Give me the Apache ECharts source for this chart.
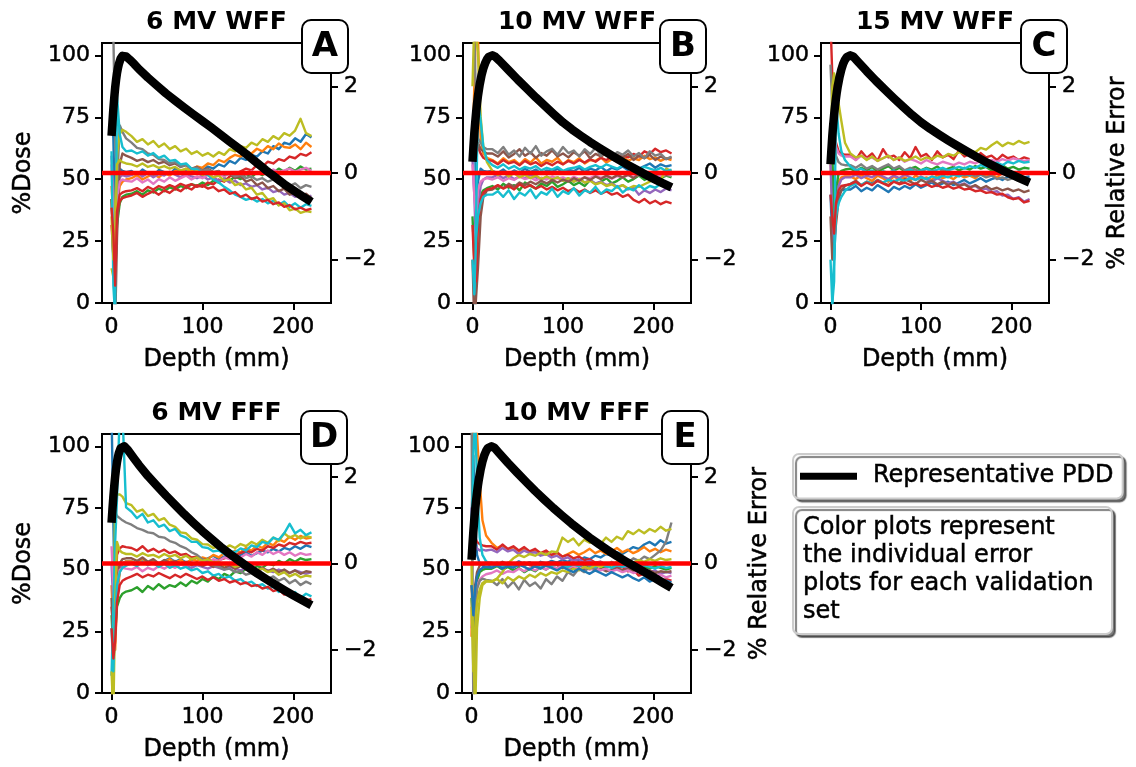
<!DOCTYPE html>
<html>
<head>
<meta charset="utf-8">
<title>Representative PDD and relative error</title>
<script src="https://cdn.jsdelivr.net/npm/echarts@6/dist/echarts.min.js"></script>
<style>
  html, body { margin: 0; padding: 0; background: #fff; }
  #chart { width: 1136px; height: 767px; }
</style>
</head>
<body>
<div id="chart"></div>
<script>
// tick labels
const X_TICKS = [0, 100, 200];
const DOSE_TICKS = [0, 25, 50, 75, 100];
const ERR_TICKS = [-2, 0, 2];
const X_MIN = -10.5, X_MAX = 241.5;

const NOTE_LINES = ['Color plots represent', 'the individual error', 'plots for each validation', 'set'];

// depth grid of the representative PDD curves (mm)
const PDD_DEPTH = [0, 1, 2, 3, 4, 5, 6, 7, 8, 10, 12, 14, 16, 18, 20, 22, 25, 30,
  40, 50, 60, 70, 80, 90, 100, 110, 120, 130, 140, 150, 160, 170, 180, 190, 200, 210, 220];

const PDD_A = [67.5, 73, 78.5, 83, 87, 90.2, 92.8, 94.8, 96.4, 98.7, 99.8, 100, 99.6, 99, 98.3, 97.6, 96.5, 94.5,
  91, 87.8, 84.6, 81.7, 78.9, 76.2, 73.5, 70.8, 68, 65.2, 62.4, 59.6, 56.6, 53.6, 50.8, 48, 45.5, 43.1, 40.8];
const PDD_B = [57, 63, 68.5, 73, 77, 80.5, 83.5, 86, 88.3, 92, 94.8, 96.9, 98.4, 99.4, 99.9, 100, 99.5, 97.8,
  94, 90.2, 86.6, 83, 79.6, 76.2, 72.9, 70.1, 67.5, 65, 62.7, 60.4, 58.2, 56.1, 54.1, 52.1, 50.2, 48.4, 46.7];
const PDD_C = [56, 62, 67.5, 72, 76, 79.5, 82.5, 85.2, 87.5, 91.3, 94.3, 96.6, 98.2, 99.3, 99.9, 100, 99.6, 97.6,
  93.6, 89.8, 86.2, 82.7, 79.3, 76, 73, 70.4, 68, 65.7, 63.5, 61.4, 59.3, 57.3, 55.4, 53.6, 51.9, 50.2, 48.6];
const PDD_D = [69, 74.5, 79.5, 84, 87.8, 91, 93.6, 95.6, 97.2, 99.2, 99.9, 100, 99.4, 98.5, 97.5, 96.5, 95, 92.5,
  88, 84, 80, 76.2, 72.5, 69, 65.6, 62.4, 59.3, 56.4, 53.7, 51.1, 48.6, 46.2, 43.9, 41.7, 39.6, 37.6, 35.6];
const PDD_E = [54, 60, 65.5, 70.3, 74.5, 78, 81.2, 84, 86.5, 90.6, 93.8, 96.3, 98.1, 99.3, 99.9, 100, 99.5, 97.4,
  93.3, 89.4, 85.6, 81.9, 78.4, 75, 71.8, 68.7, 65.8, 63, 60.4, 57.9, 55.5, 53.3, 51.2, 49.1, 47, 44.8, 42.6];

// depth grid of the validation error curves (mm)
const DEPTH_ERR = [0, 2, 4, 6, 9, 12, 16, 22, 28, 34, 40, 46, 52, 58, 64, 70, 76, 82, 88, 94, 100, 106, 112,
  118, 124, 130, 136, 142, 148, 154, 160, 166, 172, 178, 184, 190, 196, 202, 208, 214, 220];

// % relative error, one row per validation set
const ERR_A = [
  [1.5,0.8,-1.2,-0.4,0.1,0.05,0.02, 0.05,-0.05,0.08,0.0,-0.06,0.07,0.02,-0.04,0.1,0.03,0.08,0.0,0.12,0.06,0.15,0.1,0.2,0.15,0.28,0.22,0.35,0.3,0.42,0.38,0.5,0.45,0.62,0.55,0.7,0.66,0.8,0.72,0.9,0.82],
  [-0.3,-1.0,-2.8,-0.8,-0.3,-0.2,-0.15, -0.12,-0.05,-0.15,-0.08,-0.02,-0.1,0.0,-0.06,0.05,0.02,0.1,0.06,0.15,0.12,0.22,0.18,0.3,0.25,0.35,0.42,0.38,0.5,0.45,0.56,0.5,0.62,0.55,0.68,0.6,0.58,0.66,0.55,0.7,0.6],
  [-0.6,-1.6,-2.0,-1.2,-0.7,-0.55,-0.5, -0.48,-0.42,-0.5,-0.4,-0.45,-0.36,-0.42,-0.33,-0.38,-0.3,-0.35,-0.26,-0.3,-0.22,-0.28,-0.18,-0.22,-0.12,-0.18,-0.08,-0.14,-0.04,-0.1,0.02,-0.05,0.06,0.0,0.1,0.03,0.12,0.05,0.15,0.08,0.1],
  [-1.2,-1.9,-2.4,-1.0,-0.65,-0.58,-0.55, -0.52,-0.46,-0.55,-0.48,-0.42,-0.5,-0.4,-0.46,-0.36,-0.42,-0.32,-0.38,-0.28,-0.32,-0.22,-0.26,-0.15,-0.2,-0.08,-0.02,0.04,0.1,0.06,0.18,0.14,0.26,0.22,0.32,0.28,0.38,0.34,0.44,0.4,0.48],
  [0.4,-0.6,-1.5,-0.5,-0.1,-0.05,-0.08, -0.05,0.02,-0.08,0.0,-0.1,-0.02,-0.06,0.03,-0.04,-0.1,-0.02,-0.08,-0.12,-0.06,-0.15,-0.1,-0.18,-0.14,-0.22,-0.18,-0.28,-0.24,-0.32,-0.28,-0.38,-0.34,-0.44,-0.4,-0.5,-0.46,-0.55,-0.5,-0.58,-0.52],
  [-0.6,-2.0,-3.5,-1.5,0.2,0.45,0.4, 0.35,0.28,0.32,0.25,0.3,0.22,0.26,0.18,0.22,0.14,0.18,0.1,0.14,0.06,0.1,0.02,0.05,-0.05,-0.02,-0.12,-0.08,-0.2,-0.15,-0.28,-0.22,-0.35,-0.3,-0.42,-0.36,-0.5,-0.44,-0.55,-0.48,-0.58],
  [0.2,-1.0,-2.0,-0.6,-0.2,-0.15,-0.18, -0.2,-0.12,-0.22,-0.15,-0.25,-0.14,-0.2,-0.1,-0.18,-0.12,-0.06,-0.15,-0.08,-0.12,-0.04,-0.1,-0.02,-0.08,0.0,-0.06,0.02,-0.04,0.04,-0.02,0.06,0.0,0.08,0.02,0.06,0.1,0.03,0.08,0.12,0.05],
  [3.5,3.2,0.8,-0.3,1.1,0.95,0.8, 0.7,0.58,0.55,0.45,0.42,0.32,0.3,0.22,0.25,0.15,0.18,0.1,0.12,0.05,0.08,0.0,0.04,-0.04,0.0,-0.08,-0.04,-0.12,-0.08,-0.16,-0.12,-0.2,-0.15,-0.25,-0.2,-0.3,-0.24,-0.35,-0.28,-0.32],
  [-2.2,-2.4,-0.8,0.4,0.9,1.0,0.95, 0.85,0.72,0.78,0.66,0.74,0.6,0.68,0.55,0.62,0.5,0.56,0.44,0.5,0.4,0.46,0.38,0.48,0.42,0.55,0.5,0.62,0.58,0.7,0.64,0.78,0.72,0.85,0.78,0.92,0.86,0.98,1.25,0.92,0.85],
  [0.5,-2.6,-3.3,1.8,0.9,0.6,0.5, 0.52,0.45,0.5,0.4,0.46,0.35,0.4,0.28,0.3,0.2,0.22,0.1,0.08,0.0,-0.05,-0.15,-0.22,-0.32,-0.4,-0.5,-0.55,-0.62,-0.58,-0.66,-0.6,-0.7,-0.64,-0.74,-0.66,-0.78,-0.7,-0.8,-0.72,-0.76],
  [-1.0,-2.0,-1.5,0.2,0.3,0.25,0.22, 0.2,0.15,0.22,0.14,0.18,0.12,0.16,0.1,0.14,0.06,0.1,0.02,0.04,-0.04,0.0,-0.1,-0.06,-0.18,-0.14,-0.28,-0.24,-0.38,-0.34,-0.5,-0.46,-0.62,-0.58,-0.75,-0.7,-0.86,-0.82,-0.92,-0.88,-0.9],
  [-0.8,-1.4,-2.6,-0.9,-0.5,-0.45,-0.42, -0.4,-0.35,-0.42,-0.32,-0.38,-0.3,-0.35,-0.28,-0.33,-0.25,-0.3,-0.26,-0.32,-0.28,-0.36,-0.32,-0.42,-0.38,-0.48,-0.44,-0.55,-0.5,-0.6,-0.56,-0.66,-0.62,-0.72,-0.68,-0.78,-0.74,-0.84,-0.8,-0.86,-0.82]
];
const COLORS_A = ['blue','orange','green','red','purple','brown','pink','gray','olive','cyan','olive','red'];

const ERR_B = [
  [0.8,1.5,-0.5,-0.2,0.1,0.05,0.03, 0.05,0.0,0.08,-0.02,0.06,0.0,0.1,0.02,0.08,-0.02,0.06,0.03,0.1,0.0,0.08,0.04,0.12,0.02,0.1,0.06,0.14,0.04,0.12,0.08,0.15,0.06,0.18,0.1,0.16,0.22,0.12,0.2,0.15,0.18],
  [0.5,2.0,3.5,3.2,0.8,0.45,0.35, 0.3,0.22,0.34,0.25,0.3,0.2,0.32,0.24,0.36,0.22,0.3,0.26,0.35,0.2,0.3,0.25,0.34,0.22,0.3,0.28,0.36,0.24,0.32,0.26,0.38,0.28,0.34,0.3,0.4,0.32,0.36,0.28,0.34,0.3],
  [-1.0,-2.0,-1.6,-0.8,-0.5,-0.4,-0.35, -0.3,-0.38,-0.25,-0.34,-0.28,-0.4,-0.22,-0.3,-0.36,-0.24,-0.3,-0.2,-0.32,-0.26,-0.18,-0.28,-0.22,-0.3,-0.16,-0.26,-0.2,-0.12,-0.24,-0.18,-0.1,-0.2,-0.14,-0.06,-0.16,-0.1,-0.04,-0.12,-0.06,-0.1],
  [0.4,1.2,0.5,0.6,0.45,0.35,0.3, 0.28,0.2,0.3,0.22,0.26,0.18,0.28,0.2,0.25,0.16,0.24,0.18,0.26,0.2,0.28,0.22,0.3,0.24,0.32,0.26,0.35,0.3,0.38,0.32,0.4,0.36,0.44,0.38,0.5,0.44,0.56,0.48,0.52,0.45],
  [0.3,-0.5,-1.8,-0.8,-0.3,-0.15,-0.1, -0.1,-0.04,-0.12,-0.06,-0.14,-0.08,-0.12,-0.04,-0.1,-0.16,-0.08,-0.14,-0.1,-0.18,-0.12,-0.2,-0.14,-0.22,-0.16,-0.24,-0.2,-0.28,-0.24,-0.32,-0.28,-0.38,-0.34,-0.5,-0.4,-0.46,-0.38,-0.44,-0.36,-0.4],
  [0.6,1.0,0.8,0.7,0.55,0.5,0.45, 0.45,0.38,0.5,0.36,0.44,0.55,0.4,0.48,0.35,0.46,0.4,0.52,0.38,0.45,0.36,0.48,0.4,0.5,0.34,0.44,0.38,0.46,0.32,0.42,0.36,0.44,0.3,0.4,0.34,0.42,0.3,0.38,0.32,0.36],
  [0.2,-0.5,-1.0,-0.4,-0.2,-0.15,-0.12, -0.15,-0.1,-0.18,-0.12,-0.16,-0.08,-0.14,-0.1,-0.17,-0.11,-0.15,-0.08,-0.13,-0.1,-0.16,-0.09,-0.14,-0.1,-0.12,-0.06,-0.11,-0.08,-0.13,-0.07,-0.1,-0.05,-0.09,-0.04,-0.08,-0.1,-0.05,-0.08,-0.04,-0.06],
  [3.5,3.3,1.5,0.8,0.7,0.6,0.55, 0.55,0.46,0.6,0.42,0.52,0.38,0.58,0.45,0.62,0.4,0.5,0.56,0.42,0.6,0.46,0.52,0.38,0.55,0.44,0.58,0.4,0.5,0.36,0.48,0.42,0.52,0.38,0.46,0.34,0.5,0.4,0.44,0.32,0.38],
  [2.0,3.5,3.5,2.8,1.3,0.6,0.25, 0.05,-0.05,0.02,-0.08,0.0,-0.1,-0.04,-0.12,-0.06,-0.14,-0.08,-0.15,-0.1,-0.18,-0.12,-0.2,-0.14,-0.22,-0.18,-0.26,-0.22,-0.3,-0.26,-0.34,-0.28,-0.36,-0.3,-0.32,-0.26,-0.2,-0.1,-0.16,0.1,0.05],
  [-3.5,-3.3,-1.0,1.8,1.2,0.6,0.3, 0.18,0.12,0.2,0.1,0.16,0.08,0.14,0.1,0.16,0.06,0.12,0.08,0.14,0.05,0.1,0.12,0.16,0.08,0.14,0.18,0.12,0.2,0.15,0.1,0.18,0.12,0.16,0.08,0.14,0.1,0.06,0.12,0.04,0.08],
  [-2.0,-3.5,-3.5,-2.2,-1.0,-0.55,-0.4, -0.38,-0.3,-0.35,-0.25,-0.32,-0.22,-0.28,-0.2,-0.26,-0.18,-0.24,-0.16,-0.22,-0.15,-0.2,-0.12,-0.18,-0.1,-0.16,-0.08,-0.14,-0.06,-0.12,-0.05,-0.1,-0.04,-0.12,-0.02,-0.08,0.0,-0.06,0.02,-0.04,0.0],
  [-1.2,-2.2,-2.5,-1.2,-0.6,-0.45,-0.38, -0.35,-0.28,-0.36,-0.3,-0.38,-0.26,-0.34,-0.28,-0.36,-0.3,-0.38,-0.32,-0.4,-0.34,-0.42,-0.36,-0.44,-0.38,-0.46,-0.4,-0.48,-0.42,-0.5,-0.46,-0.55,-0.5,-0.62,-0.68,-0.6,-0.7,-0.64,-0.72,-0.66,-0.7],
  [-2.0,-2.8,-1.5,-1.0,-0.7,-0.55,-0.5, -0.5,-0.42,-0.55,-0.4,-0.6,-0.45,-0.52,-0.38,-0.58,-0.44,-0.5,-0.36,-0.55,-0.42,-0.48,-0.35,-0.52,-0.4,-0.45,-0.32,-0.48,-0.38,-0.42,-0.3,-0.45,-0.35,-0.4,-0.28,-0.38,-0.3,-0.34,-0.25,-0.3,-0.26]
];
const COLORS_B = ['blue','orange','green','red','purple','brown','pink','gray','olive','cyan','brown','red','cyan'];

const ERR_C = [
  [-0.5,-1.5,-2.0,-1.0,-0.5,-0.4,-0.38, -0.38,-0.3,-0.42,-0.34,-0.4,-0.28,-0.36,-0.44,-0.32,-0.38,-0.3,-0.36,-0.26,-0.34,-0.28,-0.22,-0.3,-0.24,-0.2,-0.28,-0.22,-0.16,-0.24,-0.18,-0.12,-0.2,-0.14,-0.1,-0.16,-0.08,-0.12,-0.06,-0.1,-0.08],
  [0.4,-0.8,-1.5,-0.5,-0.2,-0.1,-0.08, -0.08,-0.14,-0.05,-0.12,-0.18,-0.06,-0.12,-0.2,-0.08,-0.15,-0.1,-0.18,-0.06,-0.14,-0.1,-0.16,-0.05,-0.12,-0.08,-0.14,-0.04,-0.1,-0.06,-0.12,-0.02,-0.08,-0.04,-0.1,0.0,-0.06,-0.02,-0.08,0.02,-0.02],
  [1.0,0.5,-1.2,-0.4,0.0,0.05,0.08, 0.1,0.04,0.12,0.06,0.14,0.02,0.1,0.16,0.06,0.12,0.04,0.1,0.14,0.06,0.12,0.08,0.15,0.05,0.1,0.14,0.06,0.12,0.08,0.16,0.1,0.14,0.06,0.12,0.18,0.1,0.14,0.08,0.12,0.1],
  [3.5,3.5,1.0,0.7,0.5,0.45,0.42, 0.42,0.3,0.5,0.35,0.45,0.28,0.55,0.36,0.4,0.3,0.48,0.34,0.6,0.38,0.44,0.3,0.5,0.36,0.42,0.32,0.52,0.38,0.44,0.3,0.46,0.36,0.4,0.3,0.42,0.34,0.38,0.3,0.36,0.32],
  [0.2,-1.0,-1.8,-0.8,-0.3,-0.15,-0.1, -0.1,-0.04,-0.12,-0.06,-0.1,-0.02,-0.08,-0.14,-0.06,-0.12,-0.04,-0.1,-0.16,-0.08,-0.14,-0.2,-0.12,-0.18,-0.24,-0.2,-0.28,-0.24,-0.32,-0.3,-0.38,-0.36,-0.44,-0.42,-0.52,-0.5,-0.6,-0.56,-0.66,-0.6],
  [-1.0,-2.0,-2.0,-1.2,-0.6,-0.4,-0.3, -0.25,-0.18,-0.28,-0.2,-0.24,-0.16,-0.22,-0.28,-0.18,-0.24,-0.14,-0.2,-0.26,-0.16,-0.22,-0.18,-0.26,-0.2,-0.28,-0.22,-0.3,-0.26,-0.34,-0.28,-0.36,-0.3,-0.38,-0.34,-0.4,-0.36,-0.42,-0.38,-0.44,-0.4],
  [0.8,1.2,0.9,0.6,0.45,0.4,0.38, 0.38,0.3,0.4,0.32,0.36,0.28,0.34,0.4,0.3,0.36,0.26,0.32,0.28,0.22,0.3,0.24,0.2,0.26,0.22,0.18,0.24,0.2,0.26,0.22,0.28,0.24,0.3,0.26,0.32,0.28,0.34,0.3,0.28,0.3],
  [2.5,1.5,0.8,0.4,0.25,0.2,0.18, 0.18,0.12,0.2,0.1,0.16,0.08,0.14,0.2,0.1,0.16,0.06,0.12,0.08,0.02,0.1,0.04,0.0,0.06,0.0,-0.04,0.02,-0.06,-0.02,-0.08,-0.04,-0.1,-0.06,-0.14,-0.1,-0.16,-0.12,-0.18,-0.14,-0.16],
  [0.5,2.0,2.3,2.0,1.6,1.2,0.7, 0.45,0.36,0.4,0.3,0.38,0.28,0.34,0.4,0.3,0.36,0.28,0.32,0.38,0.3,0.36,0.32,0.4,0.36,0.44,0.4,0.48,0.44,0.52,0.48,0.58,0.54,0.64,0.72,0.62,0.7,0.66,0.74,0.68,0.72],
  [-3.5,-3.5,-2.5,1.7,0.9,0.5,0.3, 0.15,0.06,0.1,0.02,0.06,-0.02,0.04,0.0,0.06,-0.02,0.04,0.08,0.02,0.06,0.1,0.04,0.08,0.12,0.06,0.1,0.14,0.1,0.16,0.12,0.18,0.14,0.2,0.24,0.18,0.26,0.22,0.28,0.24,0.26],
  [-2.0,-3.0,-2.0,-1.0,-0.7,-0.55,-0.42, -0.3,-0.24,-0.28,-0.2,-0.26,-0.18,-0.22,-0.16,-0.2,-0.14,-0.18,-0.12,-0.16,-0.1,-0.14,-0.08,-0.12,-0.06,-0.1,-0.04,-0.08,-0.02,-0.06,0.0,-0.04,0.02,-0.02,0.04,0.0,0.02,-0.02,0.04,0.0,0.02],
  [-0.5,-1.0,-1.4,-0.7,-0.4,-0.3,-0.28, -0.26,-0.2,-0.3,-0.22,-0.28,-0.18,-0.24,-0.3,-0.2,-0.26,-0.22,-0.28,-0.24,-0.3,-0.26,-0.32,-0.28,-0.34,-0.3,-0.36,-0.32,-0.38,-0.36,-0.42,-0.4,-0.46,-0.44,-0.5,-0.48,-0.56,-0.6,-0.58,-0.68,-0.64]
];
const COLORS_C = ['blue','orange','green','red','purple','brown','pink','gray','olive','cyan','cyan','red'];

const ERR_D = [
  [3.5,1.0,-1.5,-0.6,-0.2,0.0,0.05, 0.05,0.0,0.1,0.02,0.08,-0.02,0.06,0.12,0.04,0.1,0.02,0.08,0.14,0.06,0.12,0.18,0.1,0.16,0.22,0.14,0.2,0.26,0.18,0.24,0.3,0.26,0.34,0.28,0.36,0.32,0.4,0.34,0.42,0.38],
  [-0.5,-1.5,-2.0,-0.8,-0.2,0.0,0.05, 0.05,-0.02,0.08,0.0,0.06,-0.04,0.04,0.1,0.02,0.08,0.0,0.1,0.06,0.14,0.1,0.2,0.14,0.24,0.2,0.3,0.26,0.36,0.3,0.42,0.36,0.48,0.42,0.56,0.5,0.62,0.55,0.64,0.58,0.6],
  [-1.2,-2.0,-1.6,-1.0,-0.8,-0.7,-0.65, -0.62,-0.55,-0.66,-0.52,-0.6,-0.48,-0.58,-0.5,-0.54,-0.44,-0.52,-0.4,-0.46,-0.36,-0.42,-0.3,-0.36,-0.24,-0.3,-0.18,-0.22,-0.12,-0.16,-0.06,-0.1,0.0,-0.04,0.06,0.0,0.1,0.04,0.12,0.08,0.1],
  [-1.0,-1.5,-1.0,0.2,0.35,0.4,0.38, 0.36,0.3,0.4,0.28,0.34,0.26,0.32,0.24,0.28,0.2,0.22,0.14,0.16,0.08,0.1,0.04,0.08,0.12,0.16,0.2,0.24,0.3,0.26,0.34,0.3,0.4,0.36,0.44,0.4,0.48,0.44,0.5,0.46,0.48],
  [0.0,-1.0,-1.5,-0.5,-0.1,0.0,0.02, 0.02,-0.04,0.04,-0.02,0.0,-0.06,0.02,-0.04,-0.08,-0.02,-0.06,-0.1,-0.04,-0.08,-0.12,-0.06,-0.1,-0.14,-0.08,-0.12,-0.16,-0.1,-0.14,-0.18,-0.12,-0.16,-0.2,-0.14,-0.18,-0.22,-0.16,-0.2,-0.24,-0.2],
  [-0.8,-2.0,-1.2,-0.4,0.0,0.1,0.12, 0.12,0.06,0.14,0.04,0.1,0.0,0.08,0.02,0.06,-0.02,0.04,-0.04,0.02,-0.06,0.0,-0.08,-0.02,-0.1,-0.04,-0.12,-0.06,-0.14,-0.08,-0.16,-0.1,-0.18,-0.12,-0.2,-0.14,-0.22,-0.16,-0.24,-0.18,-0.2],
  [0.4,-0.5,-1.2,-0.5,-0.15,-0.1,-0.12, -0.14,-0.08,-0.18,-0.1,-0.15,-0.06,-0.12,-0.04,-0.1,-0.02,-0.06,0.02,-0.02,0.06,0.02,0.1,0.06,0.14,0.1,0.18,0.14,0.22,0.16,0.26,0.2,0.3,0.22,0.28,0.2,0.26,0.18,0.24,0.2,0.22],
  [1.0,1.3,1.2,1.1,1.05,1.0,0.95, 0.9,0.82,0.78,0.72,0.7,0.62,0.6,0.52,0.48,0.4,0.35,0.26,0.2,0.1,0.04,-0.04,-0.08,-0.14,-0.12,-0.2,-0.18,-0.26,-0.22,-0.3,-0.26,-0.36,-0.3,-0.4,-0.34,-0.46,-0.38,-0.5,-0.42,-0.48],
  [-3.5,-2.0,1.7,1.6,1.6,1.55,1.4, 1.35,1.2,1.25,1.1,1.15,1.0,1.05,0.9,0.85,0.72,0.7,0.58,0.55,0.45,0.44,0.36,0.4,0.34,0.42,0.36,0.45,0.4,0.5,0.44,0.55,0.48,0.6,0.52,0.7,0.6,0.66,0.58,0.64,0.6],
  [-2.6,-1.0,0.5,1.5,3.5,3.5,1.3, 1.2,1.05,1.15,0.95,1.0,0.85,0.9,0.75,0.8,0.65,0.6,0.5,0.5,0.38,0.36,0.28,0.3,0.22,0.3,0.26,0.35,0.3,0.42,0.38,0.5,0.46,0.6,0.55,0.7,0.92,0.7,0.78,0.66,0.72],
  [-2.5,-3.5,-1.0,0.5,0.3,0.25,0.22, 0.22,0.16,0.24,0.18,0.2,0.14,0.22,0.16,0.2,0.12,0.18,0.1,0.14,0.06,0.1,0.02,0.04,-0.04,0.0,-0.08,-0.04,-0.12,-0.08,-0.16,-0.12,-0.2,-0.16,-0.26,-0.2,-0.3,-0.24,-0.32,-0.28,-0.3],
  [-1.5,-2.5,-1.2,-0.5,-0.2,-0.1,-0.05, 0.0,-0.06,0.04,-0.04,0.02,-0.08,0.0,-0.1,-0.04,-0.12,-0.08,-0.16,-0.12,-0.22,-0.18,-0.28,-0.24,-0.34,-0.3,-0.4,-0.36,-0.46,-0.42,-0.52,-0.48,-0.58,-0.54,-0.66,-0.6,-0.74,-0.66,-0.8,-0.7,-0.76],
  [-1.5,-2.2,-1.8,-0.9,-0.5,-0.4,-0.35, -0.3,-0.24,-0.32,-0.26,-0.3,-0.22,-0.28,-0.34,-0.26,-0.32,-0.24,-0.3,-0.36,-0.3,-0.38,-0.32,-0.4,-0.36,-0.44,-0.4,-0.48,-0.44,-0.52,-0.5,-0.58,-0.54,-0.64,-0.6,-0.72,-0.68,-0.8,-0.76,-0.86,-0.82]
];
const COLORS_D = ['blue','orange','green','red','purple','brown','pink','gray','olive','cyan','olive','cyan','red'];

const ERR_E = [
  [1.0,2.5,1.0,0.2,0.0,-0.05,-0.08, -0.05,0.0,-0.08,0.02,-0.04,0.05,-0.02,0.03,-0.06,0.04,0.0,0.06,0.02,0.08,0.04,0.1,0.06,0.14,0.1,0.18,0.14,0.22,0.18,0.26,0.22,0.3,0.38,0.34,0.44,0.5,0.42,0.54,0.46,0.5],
  [-1.7,3.5,3.5,3.0,1.9,1.0,0.65, 0.48,0.36,0.42,0.3,0.38,0.28,0.34,0.24,0.3,0.2,0.26,0.18,0.24,0.16,0.22,0.28,0.2,0.26,0.34,0.24,0.3,0.22,0.28,0.36,0.26,0.32,0.24,0.3,0.38,0.28,0.34,0.26,0.32,0.28],
  [-0.8,-1.5,-0.8,-0.4,-0.2,-0.15,-0.12, -0.12,-0.06,-0.14,-0.08,-0.16,-0.1,-0.2,-0.12,-0.18,-0.08,-0.14,-0.06,-0.12,-0.04,-0.1,-0.06,-0.12,-0.04,-0.08,-0.02,-0.06,-0.1,-0.04,-0.08,-0.02,-0.06,-0.1,-0.04,-0.08,-0.12,-0.06,-0.1,-0.14,-0.1],
  [0.5,0.8,0.6,0.5,0.45,0.42,0.4, 0.4,0.32,0.44,0.34,0.4,0.3,0.38,0.28,0.34,0.24,0.3,0.2,0.26,0.16,0.2,0.12,0.16,0.08,0.1,0.02,0.04,-0.04,-0.02,-0.1,-0.08,-0.18,-0.14,-0.28,-0.24,-0.38,-0.34,-0.42,-0.36,-0.4],
  [1.3,0.6,0.4,0.35,0.3,0.32,0.3, 0.32,0.26,0.36,0.28,0.32,0.22,0.3,0.24,0.26,0.18,0.22,0.14,0.18,0.1,0.14,0.06,0.1,0.02,0.06,0.0,0.04,-0.04,0.0,-0.08,-0.04,-0.12,-0.08,-0.16,-0.12,-0.2,-0.16,-0.24,-0.2,-0.22],
  [-0.5,-1.0,-0.5,-0.2,-0.05,0.0,0.02, 0.02,-0.04,0.04,-0.02,0.0,-0.06,0.02,-0.04,-0.08,-0.02,-0.06,0.0,-0.04,-0.1,-0.06,-0.12,-0.08,-0.14,-0.1,-0.16,-0.12,-0.18,-0.14,-0.1,-0.16,-0.12,-0.18,-0.14,-0.2,-0.16,-0.22,-0.18,-0.2,-0.18],
  [-1.5,-1.2,-0.75,-0.5,-0.37,-0.3,-0.25, -0.22,-0.16,-0.24,-0.18,-0.2,-0.12,-0.18,-0.1,-0.16,-0.08,-0.14,-0.06,-0.12,-0.04,-0.1,-0.06,-0.12,-0.08,-0.14,-0.1,-0.16,-0.12,-0.18,-0.14,-0.2,-0.16,-0.22,-0.18,-0.26,-0.22,-0.3,-0.26,-0.32,-0.28],
  [3.5,-3.5,-1.5,-0.6,-0.4,-0.35,-0.38, -0.4,-0.5,-0.36,-0.55,-0.42,-0.6,-0.38,-0.52,-0.44,-0.58,-0.36,-0.48,-0.3,-0.4,-0.2,-0.28,-0.12,-0.2,-0.06,-0.14,0.0,-0.08,0.04,-0.02,0.08,0.02,0.12,0.06,0.16,0.1,0.2,0.3,0.5,0.95],
  [0.0,-2.0,-3.5,-1.5,-0.8,-0.5,-0.42, -0.42,-0.35,-0.2,0.0,0.12,0.2,0.15,0.22,0.18,0.25,0.2,0.28,0.26,0.6,0.5,0.58,0.42,0.55,0.48,0.52,0.45,0.6,0.5,0.62,0.56,0.75,0.68,0.78,0.7,0.8,0.74,0.85,0.76,0.8],
  [0.5,2.5,3.5,1.8,0.6,0.2,0.05, -0.04,0.02,-0.06,0.0,-0.08,-0.02,-0.06,0.02,-0.04,-0.1,-0.02,-0.06,0.0,-0.04,-0.08,-0.02,-0.06,0.0,-0.04,-0.08,-0.02,-0.06,-0.1,-0.04,-0.08,-0.02,-0.06,-0.1,-0.04,-0.08,-0.12,-0.06,-0.1,-0.08],
  [-1.0,-2.5,-1.5,-0.9,-0.6,-0.45,-0.4, -0.42,-0.36,-0.46,-0.32,-0.4,-0.3,-0.36,-0.26,-0.32,-0.22,-0.28,-0.2,-0.24,-0.16,-0.2,-0.12,-0.16,-0.08,-0.12,-0.04,-0.08,0.0,-0.04,0.04,0.0,0.06,0.02,0.08,0.04,0.1,0.06,0.12,0.08,0.1],
  [-0.5,-1.2,-0.6,-0.3,-0.15,-0.1,-0.08, -0.1,-0.04,-0.12,-0.06,-0.1,-0.02,-0.08,-0.14,-0.06,-0.12,-0.04,-0.1,-0.16,-0.08,-0.14,-0.2,-0.12,-0.18,-0.24,-0.16,-0.22,-0.28,-0.2,-0.26,-0.32,-0.26,-0.34,-0.4,-0.32,-0.42,-0.36,-0.46,-0.4,-0.44]
];
const COLORS_E = ['blue','orange','green','red','purple','brown','pink','gray','olive','cyan','olive','blue'];

const TAB10 = {
  blue: '#1f77b4', orange: '#ff7f0e', green: '#2ca02c', red: '#d62728', purple: '#9467bd',
  brown: '#8c564b', pink: '#e377c2', gray: '#7f7f7f', olive: '#bcbd22', cyan: '#17becf'
};

const FONT = 'DejaVu Sans';

// plot boxes in pixels: [left, top, width, height]; tag box top-left corner
const PANELS = [
  { title: '6 MV WFF', tag: 'A', pdd: PDD_A, err: ERR_A, colors: COLORS_A, box: [102, 43, 229, 260], tagAt: [302, 20], dose: true, rel: false },
  { title: '10 MV WFF', tag: 'B', pdd: PDD_B, err: ERR_B, colors: COLORS_B, box: [463, 43, 228, 260], tagAt: [660, 20], dose: false, rel: false },
  { title: '15 MV WFF', tag: 'C', pdd: PDD_C, err: ERR_C, colors: COLORS_C, box: [821, 43, 228, 260], tagAt: [1021, 20], dose: false, rel: true },
  { title: '6 MV FFF', tag: 'D', pdd: PDD_D, err: ERR_D, colors: COLORS_D, box: [102, 434, 229, 259], tagAt: [301, 411], dose: true, rel: false },
  { title: '10 MV FFF', tag: 'E', pdd: PDD_E, err: ERR_E, colors: COLORS_E, box: [462, 434, 229, 259], tagAt: [662, 411], dose: false, rel: true }
];

const chart = echarts.init(document.getElementById('chart'), null, { renderer: 'canvas' });

// the source figure was upscaled, so its glyphs look heavier than plain DejaVu
const heavy = { textBorderColor: '#000', textBorderWidth: 0.5 };
const tickLabel = { color: '#000', fontSize: 22, fontFamily: FONT, ...heavy };
const axisName = { color: '#000', fontSize: 24, fontFamily: FONT, ...heavy };
const blackLine = { lineStyle: { color: '#000', width: 2 } };

const grids = [], xAxes = [], yAxes = [], series = [], graphics = [];

PANELS.forEach((p, i) => {
  const [left, top, width, height] = p.box;
  grids.push({ left, top, width, height, show: true, borderColor: '#000', borderWidth: 2,
    backgroundColor: 'transparent', containLabel: false, outerBoundsMode: 'none' });

  xAxes.push({
    type: 'value', gridIndex: i, min: X_MIN, max: X_MAX,
    name: 'Depth (mm)', nameLocation: 'middle', nameGap: 45, nameTextStyle: axisName,
    axisLine: { onZero: false, ...blackLine },
    axisTick: { length: 7, customValues: X_TICKS, ...blackLine },
    axisLabel: { ...tickLabel, margin: 13, customValues: X_TICKS },
    splitLine: { show: false }
  });

  yAxes.push({
    type: 'value', gridIndex: i, position: 'left', min: 0, max: 105,
    name: p.dose ? '%Dose' : '', nameLocation: 'middle', nameGap: 66, nameRotate: 90, nameTextStyle: axisName,
    axisLine: { show: true, onZero: false, ...blackLine },
    axisTick: { show: true, length: 7, customValues: DOSE_TICKS, ...blackLine },
    axisLabel: { ...tickLabel, margin: 12, customValues: DOSE_TICKS },
    splitLine: { show: false }
  });
  yAxes.push({
    type: 'value', gridIndex: i, position: 'right', min: -3, max: 3,
    name: p.rel ? '% Relative Error' : '', nameLocation: 'middle', nameGap: 57, nameRotate: 90, nameTextStyle: axisName,
    axisLine: { show: true, onZero: false, ...blackLine },
    axisTick: { show: true, length: 7, customValues: ERR_TICKS, ...blackLine },
    axisLabel: { ...tickLabel, margin: 13, customValues: ERR_TICKS,
      formatter: v => String(v).replace('-', '\u2212') },
    splitLine: { show: false }
  });

  p.err.forEach((vals, k) => {
    const c = TAB10[p.colors[k]];
    series.push({
      type: 'line', xAxisIndex: i, yAxisIndex: 2 * i + 1, silent: true,
      data: DEPTH_ERR.map((d, j) => [d, vals[j]]),
      symbol: 'none', lineStyle: { color: c, width: 2.4, join: 'round' }, itemStyle: { color: c }, z: 2
    });
  });

  // zero-error reference
  series.push({
    type: 'line', xAxisIndex: i, yAxisIndex: 2 * i + 1, silent: true,
    data: [[X_MIN, 0], [X_MAX, 0]],
    symbol: 'none', lineStyle: { color: '#ff0000', width: 4.5 }, z: 3
  });

  series.push({
    name: 'Representative PDD', type: 'line', xAxisIndex: i, yAxisIndex: 2 * i, silent: true,
    data: PDD_DEPTH.map((d, j) => [d, p.pdd[j]]),
    symbol: 'none', lineStyle: { color: '#000', width: 8.5, join: 'round' }, itemStyle: { color: '#000' }, z: 4
  });

  graphics.push({
    type: 'text', x: left + width / 2, y: top - 21, z: 50,
    style: { text: p.title, fill: '#000', fontSize: 25, fontWeight: 'bold', fontFamily: FONT,
      align: 'center', verticalAlign: 'middle', textAlign: 'center', textVerticalAlign: 'middle' }
  });
  graphics.push({
    type: 'group', x: p.tagAt[0], y: p.tagAt[1], z: 60,
    children: [
      { type: 'rect', z: 60, shape: { x: 0, y: 0, width: 46, height: 53, r: 9 },
        style: { fill: '#fff', stroke: '#000', lineWidth: 2 } },
      { type: 'text', z: 61, x: 23, y: 27,
        style: { text: p.tag, fill: '#000', fontSize: 34, fontWeight: 'bold', fontFamily: FONT,
          align: 'center', verticalAlign: 'middle', textAlign: 'center', textVerticalAlign: 'middle' } }
    ]
  });
});

// note box under the legend
graphics.push({
  type: 'group', x: 793, y: 507, z: 60,
  children: [
    { type: 'rect', z: 60, shape: { x: 0, y: 0, width: 319, height: 127, r: 6 },
      style: { fill: '#fff', stroke: '#cccccc', lineWidth: 2,
        shadowColor: 'rgba(0,0,0,0.5)', shadowOffsetX: 3, shadowOffsetY: 3, shadowBlur: 1 } },
    { type: 'text', z: 61, x: 10, y: 7,
      style: { text: NOTE_LINES.join('\n'), fill: '#000', fontSize: 24, fontFamily: FONT, lineHeight: 28,
        stroke: '#000', lineWidth: 0.5,
        align: 'left', verticalAlign: 'top', textAlign: 'left', textVerticalAlign: 'top' } }
  ]
});

chart.setOption({
  animation: false,
  backgroundColor: '#fff',
  grid: grids,
  xAxis: xAxes,
  yAxis: yAxes,
  legend: {
    data: ['Representative PDD'],
    left: 793, top: 454, orient: 'horizontal', selectedMode: false,
    icon: 'rect', itemWidth: 57, itemHeight: 7,
    padding: [10, 9, 10, 7],
    textStyle: { color: '#000', fontSize: 24, fontFamily: FONT, padding: [0, 0, 0, 11], ...heavy },
    backgroundColor: '#fff', borderColor: '#cccccc', borderWidth: 2, borderRadius: 6,
    shadowColor: 'rgba(0,0,0,0.5)', shadowOffsetX: 3, shadowOffsetY: 3, shadowBlur: 1
  },
  graphic: graphics,
  series
});
</script>
</body>
</html>
